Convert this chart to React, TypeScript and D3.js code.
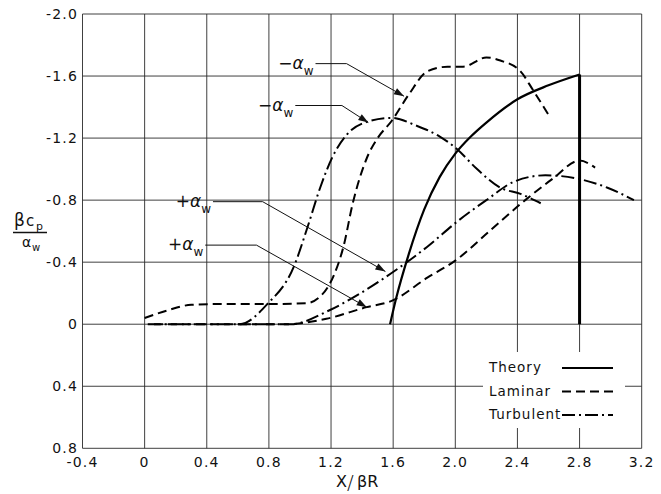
import React from 'react'
import * as d3 from 'd3'

// values: x = X/βR, y = βCp/αw (negative up)
const xTicks = [-0.4, 0, 0.4, 0.8, 1.2, 1.6, 2.0, 2.4, 2.8, 3.2]
const yTicks = [-2.0, -1.6, -1.2, -0.8, -0.4, 0, 0.4, 0.8]
const xTickLabels = ['-0.4', '0', '0.4', '0.8', '1.2', '1.6', '2.0', '2.4', '2.8', '3.2']
const yTickLabels = ['-2.0', '-1.6', '-1.2', '-0.8', '-0.4', '0', '0.4', '0.8']

const theory: [number, number][] = [
  [1.58, 0], [1.62, -0.17], [1.7, -0.45], [1.8, -0.74], [1.9, -0.95], [2.0, -1.1],
  [2.1, -1.21], [2.2, -1.3], [2.4, -1.45], [2.6, -1.54], [2.8, -1.61], [2.8, 0]
]
const laminarNeg: [number, number][] = [
  [0, -0.04], [0.15, -0.09], [0.3, -0.125], [0.5, -0.13], [0.8, -0.13], [1.04, -0.135],
  [1.12, -0.17], [1.18, -0.24], [1.22, -0.32], [1.28, -0.5], [1.34, -0.78], [1.43, -1.07],
  [1.5, -1.2], [1.59, -1.31], [1.7, -1.48], [1.82, -1.63], [1.95, -1.66], [2.05, -1.66],
  [2.2, -1.72], [2.29, -1.7], [2.42, -1.63], [2.5, -1.51], [2.6, -1.35]
]
const laminarPos: [number, number][] = [
  [0.06, 0], [0.5, 0], [0.91, 0], [1.17, -0.035], [1.43, -0.11], [1.59, -0.15], [1.82, -0.3],
  [2.0, -0.41], [2.22, -0.6], [2.45, -0.8], [2.63, -0.94], [2.8, -1.055], [2.9, -1.01]
]
const turbNeg: [number, number][] = [
  [0.02, 0], [0.3, 0], [0.61, 0], [0.79, -0.13], [0.96, -0.37], [1.05, -0.63], [1.13, -0.88],
  [1.21, -1.08], [1.3, -1.22], [1.45, -1.31], [1.59, -1.33], [1.75, -1.28], [1.9, -1.21],
  [2.01, -1.13], [2.14, -1.0], [2.29, -0.88], [2.42, -0.84], [2.55, -0.78]
]
const turbPos: [number, number][] = [
  [0.6, 0], [0.94, 0], [1.19, -0.09], [1.39, -0.2], [1.59, -0.33], [1.82, -0.5], [2.01, -0.66],
  [2.2, -0.8], [2.38, -0.92], [2.58, -0.96], [2.78, -0.94], [2.98, -0.88], [3.15, -0.8]
]

// leader lines: label anchor -> elbow -> arrow tip (data coordinates)
const callouts = [
  { sign: '−', label: [1.1, -1.68], elbow: [1.3, -1.68], tip: [1.67, -1.47] },
  { sign: '−', label: [0.97, -1.41], elbow: [1.27, -1.41], tip: [1.44, -1.3] },
  { sign: '+', label: [0.44, -0.79], elbow: [0.76, -0.79], tip: [1.55, -0.34] },
  { sign: '+', label: [0.39, -0.51], elbow: [0.72, -0.51], tip: [1.43, -0.11] }
]

const legendItems = [
  { name: 'Theory', dash: '' },
  { name: 'Laminar', dash: '9,5' },
  { name: 'Turbulent', dash: '13,4,2,4' }
]

const W = 661
const H = 494
const left = 82.5
const right = 641.7
const top = 14
const bottom = 448.3
const font = 'DejaVu Sans, sans-serif'

export default function App() {
  const x = d3.scaleLinear().domain([-0.4, 3.2]).range([left, right])
  const y = d3.scaleLinear().domain([-2.0, 0.8]).range([top, bottom])
  const curve = d3.line<[number, number]>().x((d) => x(d[0])).y((d) => y(d[1])).curve(d3.curveMonotoneX)
  const straight = d3.line<[number, number]>().x((d) => x(d[0])).y((d) => y(d[1]))

  const arrow = (tip: number[], elbow: number[]) => {
    const tx = x(tip[0]), ty = y(tip[1])
    const ang = Math.atan2(ty - y(elbow[1]), tx - x(elbow[0]))
    const len = 10, wid = 3.5
    const bx = tx - len * Math.cos(ang), by = ty - len * Math.sin(ang)
    const px = -Math.sin(ang) * wid, py = Math.cos(ang) * wid
    return `M${tx},${ty}L${bx + px},${by + py}L${bx - px},${by - py}Z`
  }

  return (
    <svg width={W} height={H} style={{ position: 'absolute', left: 0, top: 0, background: '#fff' }}>
      <rect width={W} height={H} fill="#fff" />
      {/* grid */}
      <g stroke="#2a2a2a" strokeWidth={0.9}>
        {xTicks.map((t) => <line key={'gx' + t} x1={x(t)} x2={x(t)} y1={top} y2={bottom} />)}
        {yTicks.map((t) => <line key={'gy' + t} x1={left} x2={right} y1={y(t)} y2={y(t)} />)}
      </g>
      {/* tick labels */}
      <g fontFamily={font} fontSize={14} letterSpacing={1.2} fill="#111">
        {xTicks.map((t, i) => (
          <text key={'xl' + t} x={x(t)} y={467} textAnchor="middle">{xTickLabels[i]}</text>
        ))}
        {yTicks.map((t, i) => (
          <text key={'yl' + t} x={78} y={y(t) + 5} textAnchor="end">{yTickLabels[i]}</text>
        ))}
      </g>
      {/* axis titles */}
      <g fontFamily={font} fill="#111">
        <text x={336} y={487} fontSize={16}>X</text>
        <text x={347} y={489} fontSize={20} fontWeight={300}>/</text>
        <text x={357} y={487} fontSize={16}>βR</text>
        <text x={14} y={226} fontSize={17}>β</text>
        <text x={26} y={226} fontSize={15}>c</text>
        <text x={36} y={230} fontSize={11}>p</text>
        <line x1={13} x2={47} y1={232.5} y2={232.5} stroke="#111" strokeWidth={1.3} />
        <text x={22} y={247} fontSize={14}>α</text>
        <text x={32} y={251} fontSize={10}>w</text>
      </g>
      {/* curves */}
      <g fill="none" stroke="#000">
        <path d={curve(theory.slice(0, -1)) || ''} strokeWidth={2.2} />
        <path d={straight(theory.slice(-2)) || ''} strokeWidth={3} />
        <path d={curve(laminarNeg) || ''} strokeWidth={2} strokeDasharray="9,5" />
        <path d={curve(laminarPos) || ''} strokeWidth={2} strokeDasharray="9,5" />
        <path d={curve(turbNeg) || ''} strokeWidth={2} strokeDasharray="13,4,2,4" />
        <path d={curve(turbPos) || ''} strokeWidth={2} strokeDasharray="13,4,2,4" />
      </g>
      {/* callouts */}
      {callouts.map((c, i) => (
        <g key={'c' + i}>
          <text x={x(c.label[0]) - 2} y={y(c.label[1]) + 5} textAnchor="end" fontFamily={font} fill="#111">
            <tspan fontSize={17}>{c.sign}</tspan>
            <tspan fontSize={17} fontStyle="italic">α</tspan>
            <tspan fontSize={12} dy={6}>w</tspan>
          </text>
          <path
            d={straight([c.label as [number, number], c.elbow as [number, number], c.tip as [number, number]]) || ''}
            fill="none"
            stroke="#111"
            strokeWidth={1}
          />
          <path d={arrow(c.tip, c.elbow)} fill="#111" />
        </g>
      ))}
      {/* legend */}
      <rect x={483} y={352} width={142} height={76} fill="#fff" />
      <g fontFamily={font} fontSize={13.5} letterSpacing={1} fill="#111">
        {legendItems.map((d, i) => (
          <g key={d.name}>
            <text x={489} y={372 + i * 23.5}>{d.name}</text>
            <line x1={562} x2={613} y1={368 + i * 23.5} y2={368 + i * 23.5} stroke="#000" strokeWidth={1.8} strokeDasharray={d.dash} />
          </g>
        ))}
      </g>
    </svg>
  )
}
